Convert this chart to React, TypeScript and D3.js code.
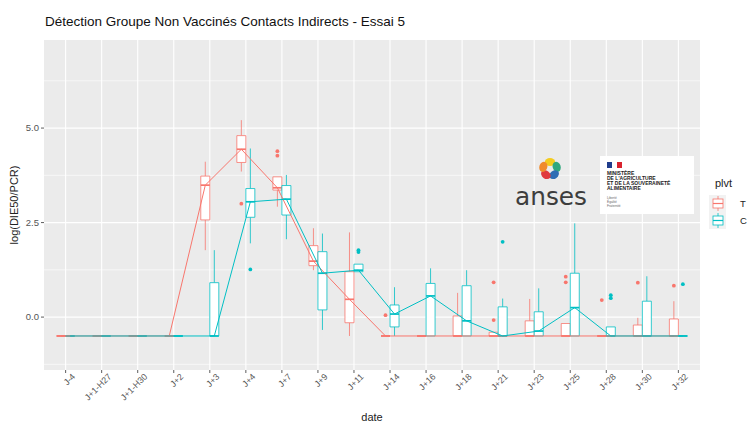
import React from "react";
import * as d3 from "d3";

const categories = ["J-4", "J+1-H27", "J+1-H30", "J+2", "J+3", "J+4", "J+7", "J+9", "J+11", "J+14", "J+16", "J+18", "J+21", "J+23", "J+25", "J+28", "J+30", "J+32"];

// Group T (red)
const tLow = [-0.5, -0.5, -0.5, -0.5, 1.77, 3.85, 2.92, 1.24, -0.5, -0.5, -0.5, -0.5, -0.5, -0.5, -0.5, -0.5, -0.5, -0.5];
const tQ1 = [-0.5, -0.5, -0.5, -0.5, 2.57, 4.09, 3.36, 1.36, -0.15, -0.5, -0.5, -0.5, -0.5, -0.5, -0.5, -0.5, -0.5, -0.5];
const tMed = [-0.5, -0.5, -0.5, -0.5, 3.49, 4.44, 3.42, 1.48, 0.47, -0.5, -0.5, -0.5, -0.5, -0.5, -0.5, -0.5, -0.5, -0.5];
const tQ3 = [-0.5, -0.5, -0.5, -0.5, 3.73, 4.8, 3.71, 1.89, 1.2, -0.5, -0.5, 0.03, -0.4, -0.1, -0.17, -0.5, -0.21, -0.05];
const tHigh = [-0.5, -0.5, -0.5, -0.5, 4.11, 5.21, 3.71, 2.35, 2.24, -0.5, -0.5, 0.64, -0.4, 0.48, -0.17, -0.5, -0.02, 0.42];
const tOutCat = ["J+4", "J+7", "J+7", "J+14", "J+21", "J+21", "J+25", "J+25", "J+28", "J+30", "J+32"];
const tOutVal = [3.0, 4.39, 4.27, 0.05, 0.92, -0.08, 1.07, 0.92, 0.45, 0.91, 0.83];

// Group C (cyan)
const cLow = [-0.5, -0.5, -0.5, -0.5, -0.5, 1.95, 2.06, -0.34, 1.2, -0.5, -0.5, -0.5, -0.5, -0.5, -0.5, -0.5, -0.5, -0.5];
const cQ1 = [-0.5, -0.5, -0.5, -0.5, -0.5, 2.64, 2.7, 0.19, 1.2, -0.26, -0.5, -0.5, -0.5, -0.5, -0.5, -0.5, -0.5, -0.5];
const cMed = [-0.5, -0.5, -0.5, -0.5, -0.5, 3.05, 3.12, 1.16, 1.24, 0.08, 0.56, -0.1, -0.5, -0.37, 0.25, -0.5, -0.5, -0.5];
const cQ3 = [-0.5, -0.5, -0.5, -0.5, 0.91, 3.4, 3.48, 1.73, 1.4, 0.32, 0.89, 0.83, 0.27, 0.14, 1.16, -0.26, 0.42, -0.5];
const cHigh = [-0.5, -0.5, -0.5, -0.5, 1.77, 4.46, 3.76, 2.21, 1.4, 0.79, 1.29, 1.24, 0.49, 0.76, 2.48, -0.26, 1.08, -0.5];
const cOutCat = ["J+4", "J+11", "J+11", "J+21", "J+28", "J+28", "J+32"];
const cOutVal = [1.26, 1.77, 1.72, 1.99, 0.58, 0.5, 0.87];

const yTicks = [0, 2.5, 5];
const yMinor = [-1.25, 1.25, 3.75, 6.25];
const groups = ["T", "C"];
const colors = ["#F8766D", "#00BFC4"];

const W = 748, H = 423;
const PL = 44, PR = 700, PT = 40, PB = 370;

export default function App() {
  const x = d3.scalePoint<string>().domain(categories).range([PL, PR]).padding(0.6);
  const y = d3.scaleLinear().domain([-1.4, 7.33]).range([PB, PT]);
  const step = x.step();
  const boxW = step * 0.25;
  const offs = [-boxW / 2, boxW / 2];

  const series = [
    { low: tLow, q1: tQ1, med: tMed, q3: tQ3, high: tHigh, oc: tOutCat, ov: tOutVal },
    { low: cLow, q1: cQ1, med: cMed, q3: cQ3, high: cHigh, oc: cOutCat, ov: cOutVal },
  ];

  const line = d3.line<[number, number]>().x((d) => d[0]).y((d) => d[1]);

  const fontFam = "Liberation Sans, Arial, sans-serif";

  // anses petals
  const petalColors = ["#F4CC1E", "#2FA77D", "#2E6DB4", "#E03A3E", "#F08A2C"];

  return (
    <svg width={W} height={H} style={{ position: "absolute", left: 0, top: 0, background: "#fff" }} fontFamily={fontFam}>
      <rect x={0} y={0} width={W} height={H} fill="#fff" />
      <text x={45} y={26} fontSize={13.5} fill="#111">Détection Groupe Non Vaccinés Contacts Indirects - Essai 5</text>
      {/* panel */}
      <rect x={PL} y={PT} width={PR - PL} height={PB - PT} fill="#EBEBEB" />
      {yMinor.map((v) => (
        <line key={"ym" + v} x1={PL} x2={PR} y1={y(v)} y2={y(v)} stroke="#fff" strokeWidth={0.6} />
      ))}
      {yTicks.map((v) => (
        <line key={"yM" + v} x1={PL} x2={PR} y1={y(v)} y2={y(v)} stroke="#fff" strokeWidth={1.1} />
      ))}
      {categories.map((c) => (
        <line key={"xg" + c} x1={x(c)!} x2={x(c)!} y1={PT} y2={PB} stroke="#fff" strokeWidth={1.1} />
      ))}
      {/* logos */}
      <g>
        {petalColors.map((col, i) => {
          const a = -90 + i * 72;
          const r = (a * Math.PI) / 180;
          const cx = 550 + 7 * Math.cos(r);
          const cy = 169 + 7 * Math.sin(r);
          return <ellipse key={col} cx={cx} cy={cy} rx={5.2} ry={4} transform={`rotate(${a + 90} ${cx} ${cy})`} fill={col} />;
        })}
        <text x={551} y={205} fontSize={24} textAnchor="middle" fill="#3d3d3d" fontFamily="DejaVu Sans, sans-serif" textLength={72} lengthAdjust="spacingAndGlyphs">anses</text>
        <rect x={600} y={156} width={94} height={58} fill="#fff" />
        <rect x={607} y={162} width={5} height={6} fill="#1F3C8C" />
        <rect x={612} y={162} width={5} height={6} fill="#fff" />
        <rect x={617} y={162} width={5} height={6} fill="#D9232E" />
        {["MINISTÈRE", "DE L'AGRICULTURE", "ET DE LA SOUVERAINETÉ", "ALIMENTAIRE"].map((t, i) => (
          <text key={t} x={607} y={175 + i * 5} fontSize={5} fontWeight="bold" fill="#222">{t}</text>
        ))}
        {["Liberté", "Égalité", "Fraternité"].map((t, i) => (
          <text key={t} x={607} y={199 + i * 4} fontSize={3.2} fill="#666">{t}</text>
        ))}
      </g>
      {/* boxplots */}
      {series.map((s, gi) => (
        <g key={"box" + gi} stroke={colors[gi]} fill="#fff">
          {categories.map((c, i) => {
            const cx = x(c)! + offs[gi];
            const x0 = cx - boxW / 2;
            const x1 = cx + boxW / 2;
            return (
              <g key={c}>
                <line x1={cx} x2={cx} y1={y(s.high[i])} y2={y(s.q3[i])} strokeWidth={0.8} />
                <line x1={cx} x2={cx} y1={y(s.q1[i])} y2={y(s.low[i])} strokeWidth={0.8} />
                <path d={`M${x0},${y(s.q1[i])}H${x1}V${y(s.q3[i])}H${x0}Z`} strokeWidth={0.8} />
                <line x1={x0} x2={x1} y1={y(s.med[i])} y2={y(s.med[i])} strokeWidth={1.7} />
              </g>
            );
          })}
          {s.oc.map((c, k) => (
            <circle key={"o" + k} cx={x(c)! + offs[gi]} cy={y(s.ov[k])} r={1.9} fill={colors[gi]} stroke="none" />
          ))}
        </g>
      ))}
      {/* median lines */}
      {series.map((s, gi) => (
        <path
          key={"ln" + gi}
          d={line(categories.map((c, i) => [x(c)! + offs[gi], y(s.med[i])])) || ""}
          fill="none"
          stroke={colors[gi]}
          strokeWidth={1}
        />
      ))}
      {/* axes */}
      {yTicks.map((v) => (
        <g key={"yt" + v}>
          <line x1={PL - 3} x2={PL} y1={y(v)} y2={y(v)} stroke="#333" strokeWidth={0.8} />
          <text x={PL - 5} y={y(v)} dy="0.35em" textAnchor="end" fontSize={9.5} fill="#555">{v.toFixed(1)}</text>
        </g>
      ))}
      {categories.map((c) => (
        <g key={"xt" + c}>
          <line x1={x(c)!} x2={x(c)!} y1={PB} y2={PB + 3} stroke="#333" strokeWidth={0.8} />
          <text transform={`translate(${x(c)! + 8},${PB + 5}) rotate(-45)`} textAnchor="end" dy="0.35em" fontSize={8.8} fill="#555">{c}</text>
        </g>
      ))}
      <text x={(PL + PR) / 2} y={421} textAnchor="middle" fontSize={11} fill="#222">date</text>
      <text transform={`translate(18,${(PT + PB) / 2}) rotate(-90)`} textAnchor="middle" fontSize={11} fill="#222">log(DIE50/PCR)</text>
      {/* legend */}
      <text x={715} y={187} fontSize={11} fill="#222">plvt</text>
      {groups.map((g, i) => {
        const ky = 195 + i * 17;
        const cx = 718;
        return (
          <g key={g}>
            <rect x={709} y={ky} width={17} height={17} fill="#F2F2F2" />
            <line x1={cx} x2={cx} y1={ky + 1} y2={ky + 16} stroke={colors[i]} strokeWidth={0.8} />
            <rect x={cx - 5} y={ky + 4} width={10} height={9} fill="#fff" stroke={colors[i]} strokeWidth={0.8} />
            <line x1={cx - 5} x2={cx + 5} y1={ky + 8.5} y2={ky + 8.5} stroke={colors[i]} strokeWidth={1.2} />
            <text x={740} y={ky + 8.5} dy="0.35em" fontSize={9.5} fill="#222">{g}</text>
          </g>
        );
      })}
    </svg>
  );
}
